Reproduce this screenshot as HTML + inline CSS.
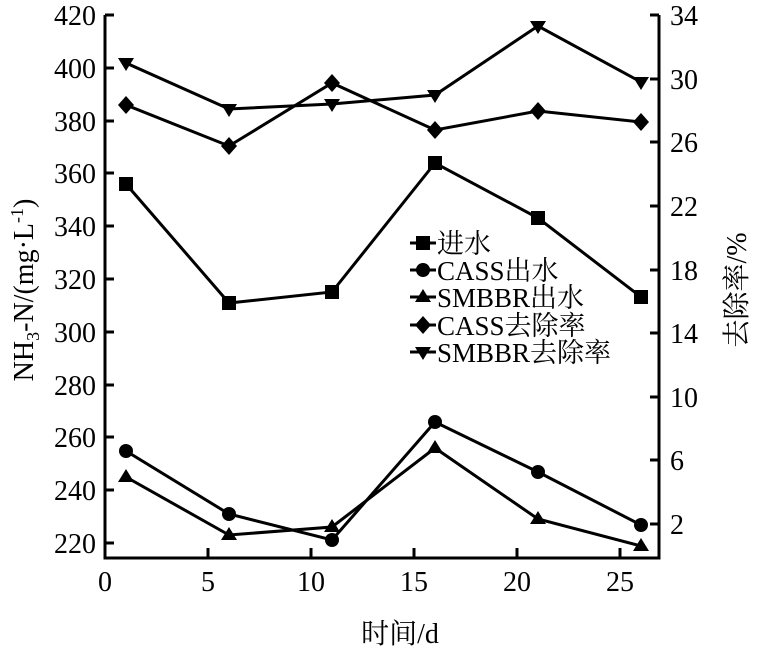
<!DOCTYPE html><html><head><meta charset="utf-8"><style>body{margin:0;background:#fff}svg{display:block}text{font-family:"Liberation Serif","Noto Serif CJK SC",serif;fill:#000}</style></head><body>
<svg width="765" height="656" viewBox="0 0 765 656" xmlns="http://www.w3.org/2000/svg">
<g stroke="#000" stroke-width="3" fill="none">
<polyline points="105,15 105,558 659,558 659,15"/>
<path d="M105,543h9M105,490h9M105,437h9M105,385h9M105,332h9M105,279h9M105,226h9M105,173h9M105,121h9M105,68h9M105,15h9"/>
<path d="M659,524h-9M659,460h-9M659,397h-9M659,333h-9M659,270h-9M659,206h-9M659,142h-9M659,79h-9M659,15h-9"/>
<path d="M208,558v-10M311,558v-10M414,558v-10M517,558v-10M620,558v-10"/>
</g>
<g font-size="28" text-anchor="end">
<text x="96" y="553">220</text><text x="96" y="500">240</text><text x="96" y="447">260</text><text x="96" y="395">280</text><text x="96" y="342">300</text><text x="96" y="289">320</text><text x="96" y="236">340</text><text x="96" y="183">360</text><text x="96" y="131">380</text><text x="96" y="78">400</text><text x="96" y="25">420</text>
</g>
<g font-size="28" text-anchor="start">
<text x="670" y="534">2</text><text x="670" y="470">6</text><text x="670" y="407">10</text><text x="670" y="343">14</text><text x="670" y="280">18</text><text x="670" y="216">22</text><text x="670" y="152">26</text><text x="670" y="89">30</text><text x="670" y="25">34</text>
</g>
<g font-size="28" text-anchor="middle">
<text x="105" y="591">0</text><text x="208" y="591">5</text><text x="311" y="591">10</text><text x="414" y="591">15</text><text x="517" y="591">20</text><text x="620" y="591">25</text>
<text x="400" y="643">时间/d</text>
</g>
<text font-size="28" transform="translate(33,290) rotate(-90)" text-anchor="middle">NH<tspan font-size="18" dy="6">3</tspan><tspan dy="-6">-N/(mg·L</tspan><tspan font-size="18" dy="-10">-1</tspan><tspan dy="10">)</tspan></text>
<text font-size="28" transform="translate(746,290) rotate(-90)" text-anchor="middle">去除率/%</text>
<g stroke="#000" stroke-width="3" fill="none">
<polyline points="126,184 229,303 332,292 435,163 538,218 641,297"/>
<polyline points="126,451 229,514 332,540 435,422 538,472 641,525"/>
<polyline points="126,477 229,535 332,527 435,448 538,519 641,546"/>
<polyline points="126,105 229,146 332,83 435,130 538,111 641,122"/>
<polyline points="126,63 229,109 332,104 435,95 538,26 641,82"/>
</g>
<g fill="#000">
<rect x="119" y="177" width="14" height="14"/><rect x="222" y="296" width="14" height="14"/><rect x="325" y="285" width="14" height="14"/><rect x="428" y="156" width="14" height="14"/><rect x="531" y="211" width="14" height="14"/><rect x="634" y="290" width="14" height="14"/>
<circle cx="126" cy="451" r="7"/><circle cx="229" cy="514" r="7"/><circle cx="332" cy="540" r="7"/><circle cx="435" cy="422" r="7"/><circle cx="538" cy="472" r="7"/><circle cx="641" cy="525" r="7"/>
<polygon points="126,469 118,482 134,482"/><polygon points="229,527 221,540 237,540"/><polygon points="332,519 324,532 340,532"/><polygon points="435,440 427,453 443,453"/><polygon points="538,511 530,524 546,524"/><polygon points="641,538 633,551 649,551"/>
<polygon points="126,96 134,105 126,114 118,105"/><polygon points="229,137 237,146 229,155 221,146"/><polygon points="332,74 340,83 332,92 324,83"/><polygon points="435,121 443,130 435,139 427,130"/><polygon points="538,102 546,111 538,120 530,111"/><polygon points="641,113 649,122 641,131 633,122"/>
<polygon points="126,71 118,58 134,58"/><polygon points="229,117 221,104 237,104"/><polygon points="332,112 324,99 340,99"/><polygon points="435,103 427,90 443,90"/><polygon points="538,34 530,21 546,21"/><polygon points="641,90 633,77 649,77"/>
</g>
<g stroke="#000" stroke-width="3"><path d="M410,243h26M410,270h26M410,297h26M410,325h26M410,352h26"/></g>
<g fill="#000">
<rect x="416" y="236" width="14" height="14"/>
<circle cx="423" cy="270" r="7"/>
<polygon points="423,289 415,302 431,302"/>
<polygon points="423,316 431,325 423,334 415,325"/>
<polygon points="423,360 415,347 431,347"/>
</g>
<g font-size="27">
<text x="437" y="253">进水</text><text x="437" y="280">CASS出水</text><text x="437" y="307">SMBBR出水</text><text x="437" y="335">CASS去除率</text><text x="437" y="362">SMBBR去除率</text>
</g>
</svg></body></html>
